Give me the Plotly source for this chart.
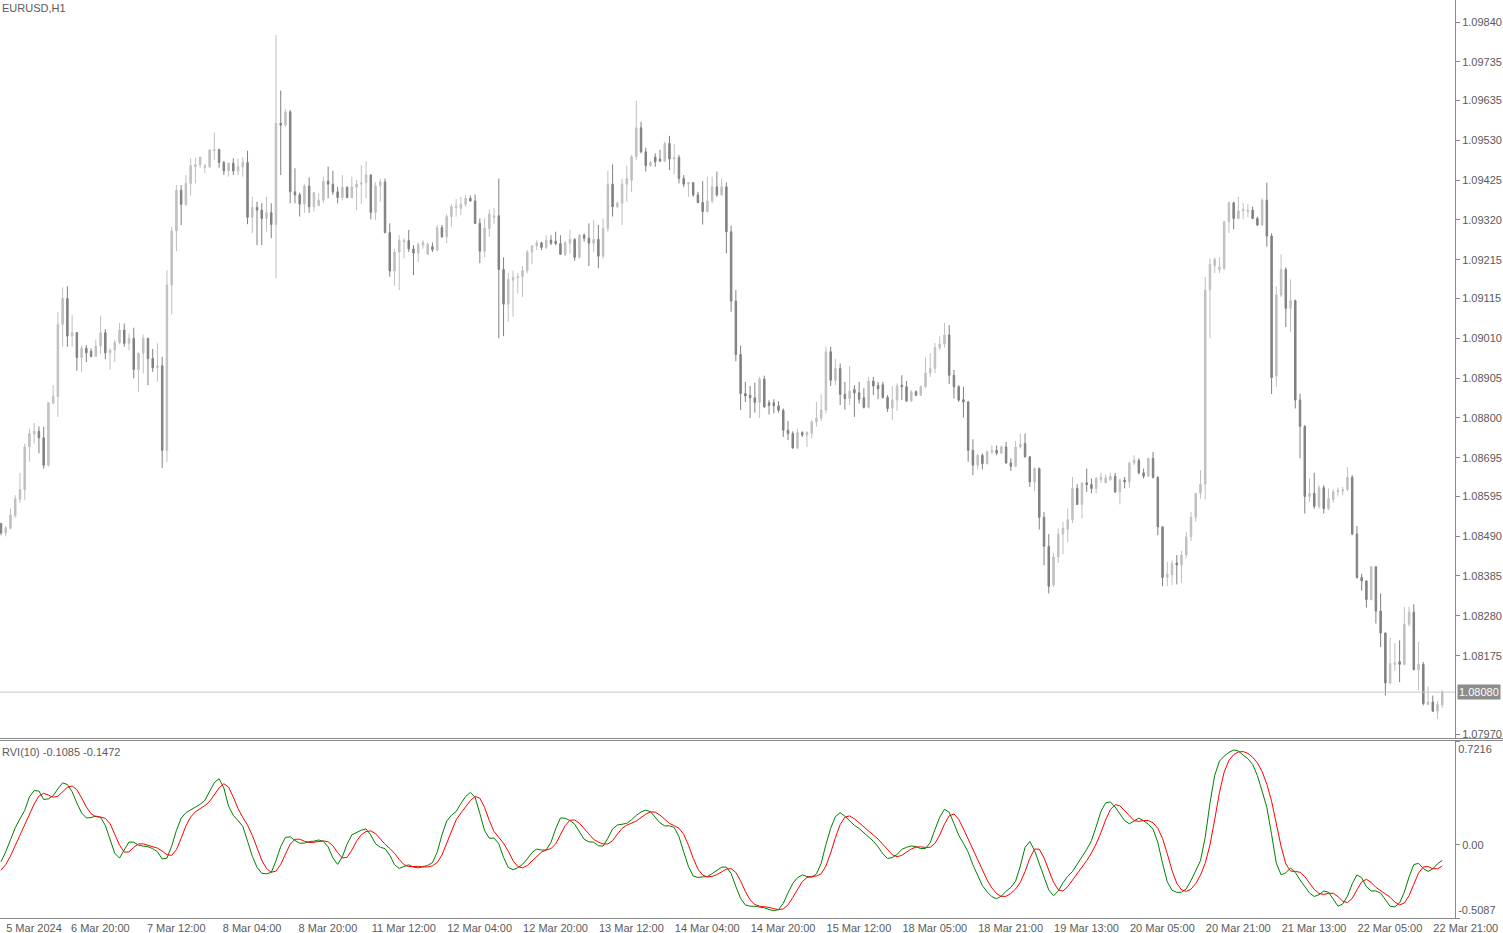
import plotly.graph_objects as go

opens = [
1.08523,1.08498,1.08510,1.08544,1.08586,1.08612,1.08724,1.08758,1.08765,1.08748,
1.08676,1.08839,1.08856,1.09046,1.09114,1.09015,1.09024,1.08959,1.08983,1.08975,
1.08962,1.08989,1.09024,1.08971,1.08978,1.08998,1.09031,1.08996,1.09009,1.08927,
1.08970,1.09009,1.08956,1.08932,1.08937,1.08715,1.09149,1.09291,1.09398,1.09361,
1.09416,1.09460,1.09465,1.09458,1.09460,1.09502,1.09505,1.09471,1.09449,1.09469,
1.09449,1.09460,1.09471,1.09327,1.09353,1.09346,1.09324,1.09339,1.09308,1.09574,
1.09569,1.09604,1.09394,1.09386,1.09362,1.09409,1.09355,1.09358,1.09372,1.09422,
1.09414,1.09394,1.09379,1.09406,1.09379,1.09406,1.09414,1.09418,1.09438,1.09340,
1.09410,1.09420,1.09287,1.09186,1.09236,1.09262,1.09266,1.09244,1.09233,1.09254,
1.09230,1.09250,1.09241,1.09300,1.09276,1.09329,1.09353,1.09351,1.09361,1.09377,
1.09370,1.09311,1.09238,1.09298,1.09327,1.09331,1.09190,1.09099,1.09162,1.09168,
1.09171,1.09187,1.09236,1.09252,1.09260,1.09248,1.09267,1.09264,1.09258,1.09230,
1.09259,1.09269,1.09222,1.09280,1.09272,1.09259,1.09269,1.09225,1.09298,1.09414,
1.09355,1.09364,1.09414,1.09424,1.09486,1.09562,1.09499,1.09463,1.09485,1.09480,
1.09475,1.09521,1.09480,1.09484,1.09429,1.09414,1.09418,1.09386,1.09366,1.09342,
1.09370,1.09407,1.09386,1.09407,1.09289,1.09107,1.08967,1.08864,1.08860,1.08853,
1.08841,1.08902,1.08840,1.08840,1.08832,1.08820,1.08768,1.08759,1.08721,1.08762,
1.08755,1.08760,1.08790,1.08800,1.08821,1.08974,1.08899,1.08930,1.08862,1.08851,
1.08875,1.08866,1.08853,1.08828,1.08897,1.08885,1.08887,1.08854,1.08826,1.08847,
1.08886,1.08882,1.08845,1.08869,1.08860,1.08882,1.08918,1.08930,1.08985,1.08994,
1.09018,1.08912,1.08882,1.08848,1.08842,1.08715,1.08676,1.08702,1.08680,1.08711,
1.08715,1.08708,1.08724,1.08682,1.08673,1.08724,1.08733,1.08698,1.08632,1.08667,
1.08539,1.08463,1.08362,1.08435,1.08495,1.08508,1.08533,1.08615,1.08573,1.08630,
1.08625,1.08615,1.08638,1.08630,1.08638,1.08647,1.08606,1.08637,1.08632,1.08682,
1.08689,1.08656,1.08647,1.08694,1.08644,1.08514,1.08381,1.08388,1.08419,1.08414,
1.08440,1.08488,1.08539,1.08602,1.08626,1.09136,1.09200,1.09190,1.09193,1.09315,
1.09365,1.09324,1.09344,1.09342,1.09346,1.09324,1.09307,1.09372,1.09278,1.08910,
1.09123,1.09190,1.09088,1.09108,1.08847,1.08778,1.08594,1.08602,1.08568,1.08617,
1.08562,1.08586,1.08606,1.08608,1.08612,1.08644,1.08495,1.08381,1.08372,1.08323,
1.08409,1.08293,1.08235,1.08104,1.08153,1.08160,1.08153,1.08258,1.08290,1.08139,
1.08153,1.08048,1.08054,1.08030,1.08046]

highs = [
1.08524,1.08516,1.08562,1.08597,1.08656,1.08733,1.08772,1.08787,1.08778,1.08777,
1.08842,1.08886,1.09079,1.09143,1.09146,1.09070,1.09026,1.08991,1.08991,1.08983,
1.09006,1.09068,1.09033,1.08983,1.09005,1.09050,1.09048,1.09022,1.09037,1.08972,
1.09019,1.09011,1.08981,1.08996,1.08961,1.09188,1.09302,1.09412,1.09412,1.09438,
1.09482,1.09484,1.09486,1.09467,1.09506,1.09550,1.09507,1.09475,1.09471,1.09482,
1.09482,1.09485,1.09502,1.09381,1.09368,1.09364,1.09381,1.09364,1.09806,1.09660,
1.09611,1.09609,1.09456,1.09392,1.09414,1.09432,1.09394,1.09390,1.09434,1.09460,
1.09449,1.09407,1.09438,1.09408,1.09434,1.09425,1.09464,1.09475,1.09440,1.09420,
1.09428,1.09429,1.09311,1.09244,1.09280,1.09272,1.09294,1.09254,1.09261,1.09267,
1.09261,1.09261,1.09307,1.09307,1.09335,1.09361,1.09375,1.09381,1.09386,1.09384,
1.09387,1.09324,1.09324,1.09348,1.09351,1.09429,1.09222,1.09181,1.09187,1.09181,
1.09199,1.09241,1.09254,1.09267,1.09263,1.09280,1.09280,1.09289,1.09280,1.09265,
1.09295,1.09272,1.09283,1.09285,1.09311,1.09320,1.09307,1.09324,1.09449,1.09466,
1.09368,1.09429,1.09463,1.09491,1.09633,1.09578,1.09510,1.09475,1.09495,1.09504,
1.09526,1.09541,1.09519,1.09491,1.09438,1.09420,1.09420,1.09394,1.09422,1.09434,
1.09434,1.09447,1.09429,1.09419,1.09305,1.09136,1.08990,1.08895,1.08884,1.08893,
1.08908,1.08911,1.08847,1.08849,1.08844,1.08825,1.08792,1.08765,1.08772,1.08765,
1.08765,1.08794,1.08842,1.08862,1.08987,1.08987,1.08955,1.08943,1.08895,1.08936,
1.08886,1.08895,1.08878,1.08908,1.08908,1.08895,1.08895,1.08860,1.08884,1.08891,
1.08912,1.08897,1.08873,1.08873,1.08886,1.08959,1.08970,1.08997,1.09015,1.09050,
1.09044,1.08926,1.08886,1.08882,1.08845,1.08744,1.08705,1.08707,1.08714,1.08728,
1.08728,1.08728,1.08737,1.08694,1.08740,1.08759,1.08759,1.08700,1.08670,1.08670,
1.08553,1.08495,1.08446,1.08510,1.08527,1.08562,1.08645,1.08626,1.08632,1.08667,
1.08641,1.08645,1.08656,1.08652,1.08656,1.08656,1.08641,1.08645,1.08685,1.08702,
1.08694,1.08667,1.08696,1.08711,1.08647,1.08516,1.08422,1.08426,1.08440,1.08451,
1.08501,1.08553,1.08603,1.08663,1.09171,1.09219,1.09222,1.09222,1.09318,1.09368,
1.09368,1.09381,1.09365,1.09362,1.09355,1.09329,1.09377,1.09418,1.09285,1.09146,
1.09230,1.09196,1.09164,1.09111,1.08864,1.08781,1.08641,1.08656,1.08623,1.08623,
1.08615,1.08612,1.08617,1.08619,1.08671,1.08650,1.08516,1.08391,1.08374,1.08411,
1.08411,1.08339,1.08237,1.08223,1.08209,1.08216,1.08304,1.08304,1.08311,1.08212,
1.08159,1.08095,1.08071,1.08057,1.08086]

lows = [
1.08492,1.08489,1.08507,1.08538,1.08577,1.08584,1.08685,1.08733,1.08707,1.08667,
1.08672,1.08836,1.08803,1.08987,1.08987,1.08987,1.08924,1.08921,1.08947,1.08959,
1.08960,1.08968,1.08954,1.08927,1.08947,1.08994,1.08987,1.08978,1.08904,1.08869,
1.08917,1.08886,1.08921,1.08895,1.08669,1.08685,1.09072,1.09238,1.09307,1.09357,
1.09384,1.09416,1.09456,1.09443,1.09456,1.09478,1.09457,1.09438,1.09434,1.09438,
1.09438,1.09434,1.09309,1.09285,1.09254,1.09254,1.09289,1.09272,1.09167,1.09438,
1.09565,1.09364,1.09364,1.09329,1.09339,1.09339,1.09342,1.09355,1.09365,1.09377,
1.09386,1.09364,1.09372,1.09377,1.09377,1.09346,1.09362,1.09377,1.09322,1.09320,
1.09368,1.09285,1.09171,1.09147,1.09136,1.09219,1.09236,1.09175,1.09210,1.09245,
1.09228,1.09236,1.09238,1.09273,1.09259,1.09302,1.09329,1.09333,1.09355,1.09368,
1.09309,1.09206,1.09222,1.09276,1.09309,1.09009,1.09015,1.09053,1.09066,1.09127,
1.09118,1.09180,1.09204,1.09241,1.09241,1.09243,1.09254,1.09254,1.09228,1.09225,
1.09232,1.09213,1.09219,1.09263,1.09199,1.09236,1.09193,1.09219,1.09289,1.09329,
1.09352,1.09307,1.09368,1.09393,1.09478,1.09495,1.09447,1.09460,1.09460,1.09472,
1.09472,1.09451,1.09440,1.09416,1.09407,1.09381,1.09381,1.09364,1.09308,1.09340,
1.09364,1.09381,1.09384,1.09232,1.09079,1.08949,1.08821,1.08842,1.08800,1.08814,
1.08800,1.08827,1.08809,1.08812,1.08814,1.08750,1.08742,1.08720,1.08718,1.08750,
1.08724,1.08746,1.08777,1.08792,1.08812,1.08884,1.08886,1.08834,1.08822,1.08834,
1.08803,1.08838,1.08825,1.08825,1.08860,1.08849,1.08851,1.08816,1.08794,1.08819,
1.08847,1.08842,1.08842,1.08857,1.08858,1.08878,1.08908,1.08918,1.08978,1.08985,
1.08889,1.08851,1.08842,1.08801,1.08685,1.08650,1.08665,1.08665,1.08678,1.08705,
1.08702,1.08705,1.08680,1.08661,1.08671,1.08720,1.08696,1.08619,1.08608,1.08507,
1.08413,1.08339,1.08356,1.08419,1.08442,1.08474,1.08524,1.08571,1.08536,1.08606,
1.08602,1.08602,1.08629,1.08628,1.08635,1.08603,1.08573,1.08615,1.08617,1.08676,
1.08652,1.08641,1.08644,1.08641,1.08492,1.08358,1.08358,1.08361,1.08363,1.08367,
1.08431,1.08477,1.08527,1.08588,1.08586,1.09009,1.09180,1.09180,1.09188,1.09286,
1.09295,1.09322,1.09322,1.09327,1.09322,1.09304,1.09304,1.09250,1.08863,1.08882,
1.09117,1.09039,1.09026,1.08825,1.08694,1.08549,1.08580,1.08562,1.08562,1.08549,
1.08558,1.08577,1.08594,1.08597,1.08608,1.08492,1.08378,1.08347,1.08302,1.08321,
1.08260,1.08198,1.08071,1.08101,1.08135,1.08106,1.08150,1.08253,1.08137,1.08085,
1.08045,1.08045,1.08028,1.08010,1.08039]

closes = [
1.08498,1.08512,1.08545,1.08588,1.08612,1.08724,1.08759,1.08765,1.08748,1.08676,
1.08840,1.08858,1.09046,1.09114,1.09015,1.09024,1.08959,1.08983,1.08971,1.08962,
1.08989,1.09024,1.08971,1.08978,1.08998,1.09031,1.08996,1.09009,1.08927,1.08970,
1.09009,1.08956,1.08932,1.08937,1.08715,1.09149,1.09291,1.09398,1.09361,1.09416,
1.09463,1.09465,1.09485,1.09462,1.09504,1.09505,1.09471,1.09449,1.09469,1.09449,
1.09460,1.09471,1.09327,1.09353,1.09346,1.09324,1.09339,1.09308,1.09574,1.09569,
1.09604,1.09394,1.09386,1.09362,1.09409,1.09355,1.09392,1.09372,1.09422,1.09414,
1.09394,1.09379,1.09406,1.09379,1.09407,1.09414,1.09418,1.09438,1.09340,1.09410,
1.09420,1.09287,1.09186,1.09236,1.09267,1.09266,1.09244,1.09233,1.09256,1.09261,
1.09256,1.09242,1.09300,1.09276,1.09329,1.09355,1.09357,1.09361,1.09377,1.09370,
1.09311,1.09238,1.09298,1.09336,1.09331,1.09190,1.09099,1.09164,1.09169,1.09171,
1.09187,1.09236,1.09252,1.09260,1.09248,1.09267,1.09259,1.09258,1.09230,1.09260,
1.09269,1.09222,1.09280,1.09272,1.09259,1.09269,1.09225,1.09298,1.09414,1.09355,
1.09364,1.09414,1.09429,1.09486,1.09562,1.09499,1.09463,1.09471,1.09473,1.09475,
1.09521,1.09480,1.09484,1.09429,1.09414,1.09418,1.09386,1.09366,1.09342,1.09370,
1.09407,1.09386,1.09407,1.09289,1.09107,1.08967,1.08864,1.08858,1.08853,1.08841,
1.08902,1.08829,1.08833,1.08832,1.08820,1.08768,1.08759,1.08721,1.08762,1.08755,
1.08762,1.08790,1.08800,1.08821,1.08974,1.08899,1.08930,1.08862,1.08851,1.08871,
1.08866,1.08849,1.08828,1.08897,1.08884,1.08877,1.08854,1.08825,1.08847,1.08884,
1.08882,1.08845,1.08869,1.08860,1.08882,1.08918,1.08930,1.08985,1.08994,1.09018,
1.08912,1.08882,1.08847,1.08842,1.08715,1.08676,1.08702,1.08680,1.08711,1.08715,
1.08708,1.08724,1.08682,1.08673,1.08724,1.08731,1.08698,1.08632,1.08667,1.08539,
1.08463,1.08358,1.08435,1.08495,1.08510,1.08533,1.08615,1.08573,1.08629,1.08625,
1.08615,1.08641,1.08645,1.08643,1.08647,1.08606,1.08637,1.08632,1.08682,1.08689,
1.08656,1.08647,1.08694,1.08644,1.08514,1.08381,1.08390,1.08418,1.08414,1.08440,
1.08488,1.08539,1.08602,1.08626,1.09136,1.09204,1.09216,1.09196,1.09315,1.09365,
1.09324,1.09344,1.09348,1.09346,1.09324,1.09307,1.09372,1.09278,1.08906,1.09123,
1.09190,1.09088,1.09108,1.08847,1.08778,1.08594,1.08602,1.08568,1.08617,1.08562,
1.08588,1.08606,1.08610,1.08612,1.08644,1.08495,1.08381,1.08372,1.08323,1.08409,
1.08293,1.08235,1.08104,1.08155,1.08157,1.08153,1.08258,1.08290,1.08139,1.08153,
1.08050,1.08054,1.08030,1.08048,1.08080]

rvi_main = [
-0.1180,-0.0490,0.0350,0.1180,0.1800,0.2397,0.3332,0.3771,0.3740,0.3151,0.3196,0.3406,0.3891,0.4307,0.4189,0.3690,0.2905,0.2215,0.1867,0.1895,
0.1997,0.1912,0.1352,0.0317,-0.0593,-0.0915,-0.0362,0.0198,0.0180,-0.0029,-0.0092,-0.0132,-0.0267,-0.0483,-0.0987,-0.0923,-0.0098,0.0999,0.1855,0.2230,
0.2426,0.2593,0.2817,0.3095,0.3684,0.4325,0.4593,0.3954,0.2682,0.2050,0.1677,0.1285,0.0262,-0.0791,-0.1563,-0.1975,-0.2015,-0.1923,-0.1104,-0.0117,
0.0516,0.0559,0.0301,0.0111,0.0117,0.0230,0.0250,0.0336,0.0239,-0.0142,-0.0908,-0.1357,-0.0834,0.0051,0.0693,0.0866,0.1017,0.1107,0.0680,0.0071,
-0.0167,-0.0269,-0.0714,-0.1382,-0.1646,-0.1505,-0.1393,-0.1550,-0.1602,-0.1525,-0.1432,-0.1240,-0.0524,0.0678,0.1650,0.2053,0.2316,0.2872,0.3353,0.3646,
0.3305,0.2185,0.0984,0.0458,0.0465,0.0078,-0.0875,-0.1575,-0.1731,-0.1597,-0.1360,-0.0985,-0.0542,-0.0295,-0.0364,-0.0359,0.0173,0.1114,0.1865,0.1847,
0.1691,0.1430,0.0913,0.0392,0.0203,0.0183,-0.0063,-0.0088,0.0461,0.1099,0.1376,0.1420,0.1488,0.1741,0.2046,0.2279,0.2412,0.2301,0.1923,0.1523,
0.1317,0.1320,0.1204,0.0563,-0.0487,-0.1508,-0.2169,-0.2268,-0.2232,-0.2210,-0.2005,-0.1748,-0.1556,-0.1546,-0.1996,-0.2896,-0.3730,-0.4175,-0.4266,-0.4274,
-0.4303,-0.4376,-0.4493,-0.4586,-0.4502,-0.4065,-0.3338,-0.2686,-0.2291,-0.2094,-0.2198,-0.2261,-0.2029,-0.1285,0.0024,0.1148,0.1960,0.2228,0.1990,0.1659,
0.1355,0.1132,0.0844,0.0592,0.0252,-0.0142,-0.0618,-0.0954,-0.0885,-0.0675,-0.0318,-0.0173,-0.0078,-0.0124,-0.0263,-0.0254,0.0149,0.1069,0.1919,0.2472,
0.2261,0.1483,0.0671,0.0106,-0.0511,-0.1393,-0.2175,-0.2838,-0.3266,-0.3606,-0.3751,-0.3561,-0.3227,-0.2962,-0.2528,-0.1474,-0.0180,0.0229,-0.0398,-0.1306,
-0.2215,-0.3136,-0.3536,-0.3216,-0.2642,-0.2192,-0.1852,-0.1376,-0.0840,-0.0322,0.0287,0.1261,0.2314,0.2917,0.2982,0.2627,0.2154,0.1682,0.1462,0.1654,
0.1854,0.1677,0.1435,0.1087,0.0170,-0.1282,-0.2575,-0.3153,-0.3307,-0.3298,-0.3061,-0.2491,-0.1749,-0.1104,0.0518,0.2887,0.4826,0.5815,0.6165,0.6426,
0.6591,0.6520,0.6237,0.5986,0.5591,0.4818,0.3733,0.2598,0.0720,-0.1280,-0.2083,-0.1944,-0.1611,-0.1919,-0.2442,-0.2932,-0.3352,-0.3592,-0.3468,-0.3213,
-0.3290,-0.3772,-0.4263,-0.4119,-0.3575,-0.2711,-0.2091,-0.2283,-0.2910,-0.3206,-0.3205,-0.3357,-0.3836,-0.4274,-0.4312,-0.4043,-0.3291,-0.2225,-0.1375,-0.1288,
-0.1643,-0.1852,-0.1674,-0.1317,-0.1085]

rvi_signal = [
-0.1760,-0.1375,-0.0780,-0.0047,0.0728,0.1451,0.2151,0.2838,0.3391,0.3584,0.3458,0.3307,0.3374,0.3683,0.3998,0.4096,0.3828,0.3266,0.2633,0.2160,
0.1956,0.1927,0.1844,0.1474,0.0776,-0.0019,-0.0510,-0.0492,-0.0177,0.0061,0.0068,-0.0032,-0.0124,-0.0229,-0.0437,-0.0689,-0.0734,-0.0339,0.0455,0.1306,
0.1933,0.2294,0.2514,0.2723,0.3017,0.3450,0.3951,0.4246,0.4017,0.3319,0.2516,0.1903,0.1372,0.0663,-0.0223,-0.1070,-0.1647,-0.1911,-0.1826,-0.1365,
-0.0642,0.0042,0.0389,0.0391,0.0250,0.0164,0.0176,0.0235,0.0273,0.0209,-0.0063,-0.0537,-0.0918,-0.0873,-0.0371,0.0254,0.0698,0.0928,0.0966,0.0777,
0.0407,0.0037,-0.0252,-0.0586,-0.1018,-0.1379,-0.1513,-0.1499,-0.1499,-0.1537,-0.1540,-0.1460,-0.1232,-0.0714,0.0120,0.1031,0.1733,0.2210,0.2630,0.3069,
0.3362,0.3240,0.2602,0.1684,0.0923,0.0485,0.0112,-0.0450,-0.1092,-0.1514,-0.1599,-0.1439,-0.1138,-0.0785,-0.0504,-0.0370,-0.0261,0.0063,0.0680,0.1330,
0.1705,0.1729,0.1500,0.1128,0.0707,0.0381,0.0184,0.0059,0.0057,0.0297,0.0735,0.1138,0.1363,0.1489,0.1654,0.1890,0.2134,0.2288,0.2271,0.2064,
0.1751,0.1487,0.1333,0.1154,0.0728,-0.0025,-0.0933,-0.1685,-0.2102,-0.2230,-0.2193,-0.2068,-0.1879,-0.1693,-0.1658,-0.1922,-0.2510,-0.3237,-0.3829,-0.4148,
-0.4260,-0.4299,-0.4354,-0.4438,-0.4506,-0.4456,-0.4176,-0.3666,-0.3067,-0.2564,-0.2276,-0.2189,-0.2173,-0.2010,-0.1477,-0.0567,0.0503,0.1411,0.1919,0.2009,
0.1814,0.1525,0.1246,0.0983,0.0709,0.0398,0.0032,-0.0371,-0.0695,-0.0828,-0.0732,-0.0507,-0.0289,-0.0157,-0.0140,-0.0184,-0.0168,0.0099,0.0683,0.1433,
0.2019,0.2145,0.1772,0.1113,0.0421,-0.0255,-0.0980,-0.1748,-0.2448,-0.2998,-0.3389,-0.3590,-0.3576,-0.3382,-0.3078,-0.2614,-0.1858,-0.0935,-0.0296,-0.0304,
-0.0899,-0.1763,-0.2590,-0.3129,-0.3214,-0.2907,-0.2456,-0.2018,-0.1581,-0.1101,-0.0569,0.0058,0.0848,0.1726,0.2451,0.2790,0.2715,0.2371,0.1960,0.1683,
0.1628,0.1693,0.1692,0.1527,0.1148,0.0444,-0.0619,-0.1783,-0.2674,-0.3132,-0.3237,-0.3086,-0.2692,-0.2107,-0.1280,-0.0006,0.1755,0.3626,0.5056,0.5869,
0.6265,0.6453,0.6481,0.6349,0.6093,0.5701,0.5089,0.4215,0.3033,0.1515,-0.0101,-0.1325,-0.1824,-0.1852,-0.1908,-0.2211,-0.2670,-0.3100,-0.3381,-0.3447,
-0.3374,-0.3374,-0.3600,-0.3913,-0.4019,-0.3727,-0.3130,-0.2577,-0.2395,-0.2614,-0.2953,-0.3181,-0.3361,-0.3644,-0.3982,-0.4175,-0.4046,-0.3534,-0.2742,-0.1963,
-0.1532,-0.1515,-0.1659,-0.1669,-0.1472]

time_tick_bars = [0, 14, 30, 46, 62, 78, 94, 110, 126, 142, 158, 174, 190, 206, 222, 238, 254, 270, 286, 302]
time_tick_labels = ["5 Mar 2024", "6 Mar 20:00", "7 Mar 12:00", "8 Mar 04:00", "8 Mar 20:00",
                    "11 Mar 12:00", "12 Mar 04:00", "12 Mar 20:00", "13 Mar 12:00", "14 Mar 04:00",
                    "14 Mar 20:00", "15 Mar 12:00", "18 Mar 05:00", "18 Mar 21:00", "19 Mar 13:00",
                    "20 Mar 05:00", "20 Mar 21:00", "21 Mar 13:00", "22 Mar 05:00", "22 Mar 21:00"]
price_ticks = [1.09840, 1.09735, 1.09635, 1.09530, 1.09425, 1.09320, 1.09215, 1.09115, 1.09010,
               1.08905, 1.08800, 1.08695, 1.08595, 1.08490, 1.08385, 1.08280, 1.08175, 1.07970]
bid_price = 1.08080
rvi_period = 10
rvi_top, rvi_bottom = 0.7216, -0.5087

W, H = 1503, 933
PLOT_R = 1455          # right edge of plotting area (px)
PLOT_B = 918           # bottom of plotting area (px)
PRICE_B = 738          # bottom of price pane (px)
RVI_T = 741            # top of indicator pane (px)
BAR_PX = 4.741         # horizontal spacing of bars (px)
X0 = 1.0               # pixel position of first bar

def ypaper(px):
    return 1 - px / PLOT_B

axis_col = '#8a8a8a'
text_col = '#5a5a5a'
FONT = 'Liberation Sans'

n = len(closes)
bars = list(range(n))
fig = go.Figure()
fig.add_trace(go.Candlestick(
    x=bars, open=opens, high=highs, low=lows, close=closes,
    increasing=dict(line=dict(color='#c0c0c0', width=1), fillcolor='#c0c0c0'),
    decreasing=dict(line=dict(color='#808080', width=1), fillcolor='#808080'),
    whiskerwidth=0, xaxis='x', yaxis='y', showlegend=False, hoverinfo='skip'))
fig.add_trace(go.Scatter(x=bars, y=rvi_main, mode='lines', line=dict(color='#008000', width=1),
                         xaxis='x', yaxis='y2', showlegend=False, hoverinfo='skip'))
fig.add_trace(go.Scatter(x=bars, y=rvi_signal, mode='lines', line=dict(color='#ff0000', width=1),
                         xaxis='x', yaxis='y2', showlegend=False, hoverinfo='skip'))
fig.add_trace(go.Scatter(x=[], y=[], xaxis='x', yaxis='y3', showlegend=False))
fig.add_trace(go.Scatter(x=[], y=[], xaxis='x', yaxis='y4', showlegend=False))

xr = [(0 - X0) / BAR_PX, (PLOT_R - X0) / BAR_PX]
p_per_px = (price_ticks[0] - price_ticks[-1]) / (734 - 22)
yr = [price_ticks[0] - (PRICE_B - 22) * p_per_px, price_ticks[0] + 22 * p_per_px]

common_y = dict(side='right', anchor='x', showgrid=False, zeroline=False, fixedrange=True,
                automargin=False, ticks='outside', ticklen=4, tickcolor=axis_col,
                tickfont=dict(family=FONT, size=11, color=text_col))

fig.update_layout(
    width=W, height=H,
    margin=dict(l=0, r=W - PLOT_R, t=0, b=H - PLOT_B, autoexpand=False),
    paper_bgcolor='white', plot_bgcolor='white',
    showlegend=False, boxgap=0.55, dragmode=False,
    font=dict(family=FONT, size=11, color=text_col),
    xaxis=dict(domain=[0, 1], range=xr, anchor='y2', showgrid=False, zeroline=False,
               showline=True, linecolor=axis_col, linewidth=1, automargin=False,
               tickmode='array', tickvals=time_tick_bars, ticktext=time_tick_labels,
               ticks='', ticklabelshift=33,
               tickfont=dict(family=FONT, size=11, color=text_col),
               rangeslider=dict(visible=False), fixedrange=True),
    yaxis=dict(domain=[ypaper(PRICE_B), 1], range=yr, tickmode='array', tickvals=price_ticks,
               ticktext=[f'{v:.5f}' for v in price_ticks], showline=True, linecolor=axis_col,
               **common_y),
    yaxis2=dict(domain=[0, ypaper(RVI_T)], range=[rvi_bottom, rvi_top], tickmode='array',
                tickvals=[0], ticktext=['0.00'], showline=True, linecolor=axis_col, **common_y),
    yaxis3=dict(overlaying='y2', range=[rvi_bottom, rvi_top], tickmode='array',
                tickvals=[rvi_top], ticktext=[f'{rvi_top:.4f}'], ticklabelposition='outside bottom',
                showline=False, **common_y),
    yaxis4=dict(overlaying='y2', range=[rvi_bottom, rvi_top], tickmode='array',
                tickvals=[rvi_bottom], ticktext=[f'{rvi_bottom:.4f}'], ticklabelposition='outside top',
                showline=False, **common_y),
)

# pane separator and bid line
for py in (PRICE_B + 0.5, RVI_T - 0.5):
    fig.add_shape(type='line', xref='paper', yref='paper', x0=0, x1=W / PLOT_R, y0=ypaper(py), y1=ypaper(py),
                  line=dict(color=axis_col, width=1))
fig.add_shape(type='line', xref='paper', yref='y', x0=0, x1=1, y0=bid_price, y1=bid_price,
              line=dict(color='#c8c8c8', width=1))

fig.add_annotation(xref='paper', yref='paper', x=0, y=1, xanchor='left', yanchor='top',
                   text='EURUSD,H1', showarrow=False,
                   font=dict(family=FONT, size=11, color=text_col))
fig.add_annotation(xref='paper', yref='paper', x=0, y=ypaper(RVI_T + 3), xanchor='left', yanchor='top',
                   text=f'RVI({rvi_period}) {rvi_main[-1]:.4f} {rvi_signal[-1]:.4f}', showarrow=False,
                   font=dict(family=FONT, size=11, color=text_col))
fig.add_annotation(xref='paper', yref='y', x=1, y=bid_price, xanchor='left', yanchor='middle',
                   text=f'{bid_price:.5f}', showarrow=False, xshift=2, bgcolor='#8c8c8c',
                   borderpad=1, font=dict(family=FONT, size=11, color='white'))

fig.write_html('out.html', config={'displayModeBar': False, 'staticPlot': True},
               post_script="document.body.style.margin='0px';document.body.style.overflow='hidden';")
